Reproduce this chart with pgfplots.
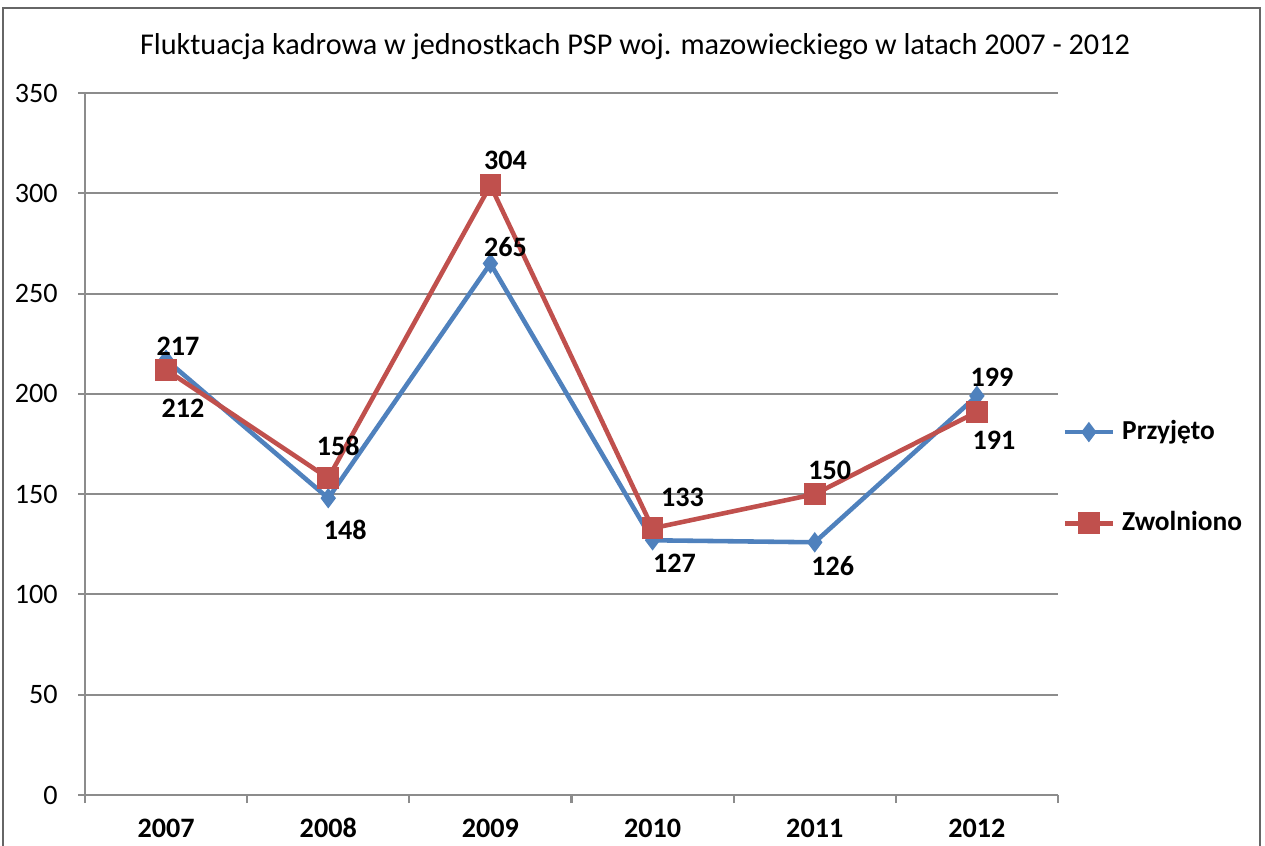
\documentclass[border=0pt]{standalone}
\usepackage{fontspec}
\setmainfont{Carlito}
\usepackage{pgfplots}
\usepackage{pgfplotstable}
\pgfplotsset{compat=1.18}
\definecolor{sblue}{HTML}{4F81BD}
\definecolor{sred}{HTML}{C0504D}
\definecolor{gridc}{HTML}{8C8C8C}

% x y  label offsets (dx dy in px of the 1265 px wide picture)
\pgfplotstableread{
x y dx dy
0 217 12 13
1 148 17 -32
2 265 15 16
3 127 22 -23
4 126 18 -24
5 199 15 19
}\przyjeto
\pgfplotstableread{
x y dx dy
0 212 17 -39
1 158 10 32
2 304 15 25
3 133 30 31
4 150 15 24
5 191 17 -28
}\zwolniono

\begin{document}
\begin{tikzpicture}
\useasboundingbox (0,0) rectangle (12.65,8.45);
\draw[gray!80!black, line width=0.6pt] (0.03,-0.3) rectangle (12.60,8.37);
\node[font=\fontsize{8.6}{10}\selectfont] at (6.35,7.98)
  {Fluktuacja kadrowa w jednostkach PSP woj. mazowieckiego w latach 2007 - 2012};
\begin{axis}[
  at={(0.85cm,0.50cm)}, anchor=south west,
  scale only axis, width=9.73cm, height=7.02cm,
  xmin=-0.5, xmax=5.5, ymin=0, ymax=350,
  ytick={0,50,...,350},
  xtick={0,...,5},
  xticklabels={2007,2008,2009,2010,2011,2012},
  minor xtick={-0.5,0.5,...,5.5},
  axis x line*=bottom, axis y line*=left,
  axis line style={-, gridc, line width=0.6pt},
  ymajorgrids, grid style={gridc, line width=0.6pt},
  tick align=outside,
  major tick length=0.07cm, minor tick length=0.08cm,
  x tick style={draw=none}, minor x tick style={draw=gridc, line width=0.6pt},
  y tick style={gridc, line width=0.6pt},
  tick label style={font=\fontsize{8}{9}\selectfont},
  xticklabel style={font=\fontsize{8}{9}\selectfont\bfseries,
    anchor=center, text height=1.4ex, text depth=0pt, yshift=-0.24cm},
  yticklabel style={xshift=-0.08cm},
  /pgf/number format/assume math mode=true,
  legend style={draw=none, fill=none, at={(1.004,0.452)}, anchor=west,
    inner sep=0pt, row sep=15pt, font=\fontsize{7.8}{9}\selectfont\bfseries},
  legend cell align=left,
  legend image code/.code={\draw[mark repeat=2,mark phase=2,#1]
    plot coordinates {(0cm,0cm)(0.24cm,0cm)(0.48cm,0cm)};},
  visualization depends on={\thisrow{dx} \as \dx},
  visualization depends on={\thisrow{dy} \as \dy},
  nodes near coords,
  point meta=y,
  nodes near coords style={anchor=center, xshift={\dx*0.01cm}, yshift={\dy*0.01cm},
    font=\fontsize{8}{9}\selectfont\bfseries, text=black},
  clip=false,
]
\addplot[sblue, line width=1.3pt, mark=diamond*, mark size=2.6pt,
  mark options={solid, line width=0.4pt}] table[x=x, y=y] {\przyjeto};
\addlegendentry{Przyjęto}
\addplot[sred, line width=1.3pt, mark=square*, mark size=2.9pt,
  mark options={solid, line width=0.4pt}] table[x=x, y=y] {\zwolniono};
\addlegendentry{Zwolniono}
\end{axis}
\end{tikzpicture}
\end{document}
